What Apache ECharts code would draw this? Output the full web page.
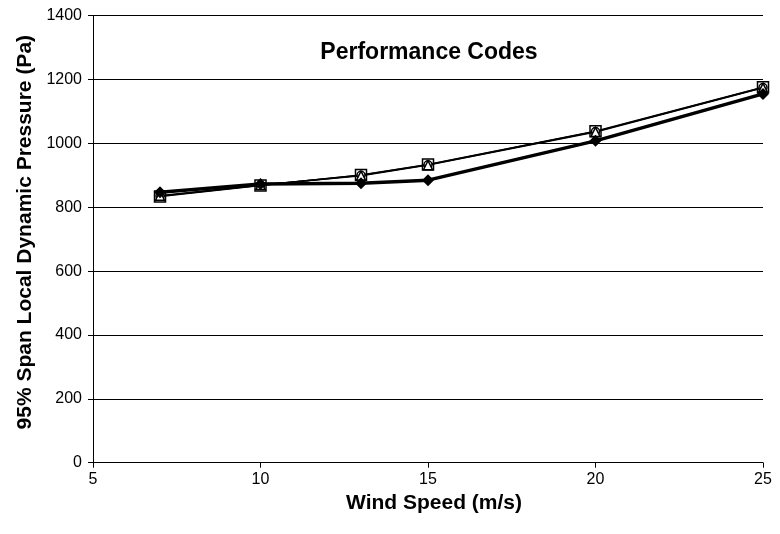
<!DOCTYPE html>
<html><head><meta charset="utf-8">
<script src="https://cdn.jsdelivr.net/npm/echarts@6/dist/echarts.min.js"></script>
<style>html,body{margin:0;padding:0;background:#fff}#c{width:780px;height:534px}</style>
</head><body><div id="c"></div>
<script>
const windSpeed = [7, 10, 13, 15, 20, 25];
const codeA = [847, 873, 875, 885, 1008, 1155];   // filled diamonds, thick line
const codeB = [834, 868, 901, 934, 1038, 1176];   // open squares
const codeC = [836, 870, 899, 932, 1036, 1174];   // open triangles
const codeD = [835, 869, 900, 933, 1037, 1175];   // open circles
const yTicks = [0, 200, 400, 600, 800, 1000, 1200, 1400];
const xTicks = [5, 10, 15, 20, 25];

const pair = arr => windSpeed.map((x, i) => [x, arr[i]]);
const chart = echarts.init(document.getElementById('c'));
const font = '"Liberation Sans", Arial, sans-serif';
chart.setOption({
  animation: false,
  title: {
    text: 'Performance Codes', left: 424, top: 36, textAlign: 'center',
    textStyle: { fontFamily: font, fontSize: 23, fontWeight: 'bold', color: '#000' }
  },
  grid: { left: 93, top: 15.7, right: 17, bottom: 71.3 },
  xAxis: {
    type: 'value', min: xTicks[0], max: xTicks[xTicks.length - 1], interval: 5,
    name: 'Wind Speed (m/s)', nameLocation: 'middle', nameGap: 16,
    nameTextStyle: { fontFamily: font, fontSize: 21, fontWeight: 'bold', color: '#000', padding: [0, 0, 0, 12] },
    axisLine: { onZero: false, lineStyle: { color: '#000', width: 1 } },
    axisTick: { show: true, inside: false, length: 5, lineStyle: { color: '#000' } },
    axisLabel: { fontFamily: font, fontSize: 16, color: '#000', margin: 9 },
    splitLine: { show: false }
  },
  yAxis: {
    type: 'value', min: yTicks[0], max: yTicks[yTicks.length - 1], interval: 200,
    name: '95% Span Local Dynamic Pressure (Pa)', nameLocation: 'middle', nameGap: 48,
    nameTextStyle: { fontFamily: font, fontSize: 21, fontWeight: 'bold', color: '#000', padding: [0, 0, 0, 14] },
    axisLine: { show: true, lineStyle: { color: '#000', width: 1 } },
    axisTick: { show: true, inside: false, length: 5, lineStyle: { color: '#000' } },
    axisLabel: { fontFamily: font, fontSize: 16, color: '#000', margin: 11, formatter: v => String(v) },
    splitLine: { show: true, lineStyle: { color: '#000', width: 1 } }
  },
  series: [
    { type: 'line', data: pair(codeD), symbol: 'circle', symbolSize: 8,
      lineStyle: { color: '#000', width: 1.5 }, itemStyle: { color: '#fff', borderColor: '#000', borderWidth: 1.5 } },
    { type: 'line', data: pair(codeC), symbol: 'triangle', symbolSize: 9,
      lineStyle: { color: '#000', width: 1.5 }, itemStyle: { color: '#fff', borderColor: '#000', borderWidth: 1.5 } },
    { type: 'line', data: pair(codeB), symbol: 'rect', symbolSize: 11,
      lineStyle: { color: '#000', width: 1.5 }, itemStyle: { color: 'rgba(255,255,255,0)', borderColor: '#000', borderWidth: 1.5 } },
    { type: 'line', data: pair(codeA), symbol: 'diamond', symbolSize: 12,
      lineStyle: { color: '#000', width: 3.5 }, itemStyle: { color: '#000', borderColor: '#000', borderWidth: 0 } }
  ]
});
</script></body></html>
